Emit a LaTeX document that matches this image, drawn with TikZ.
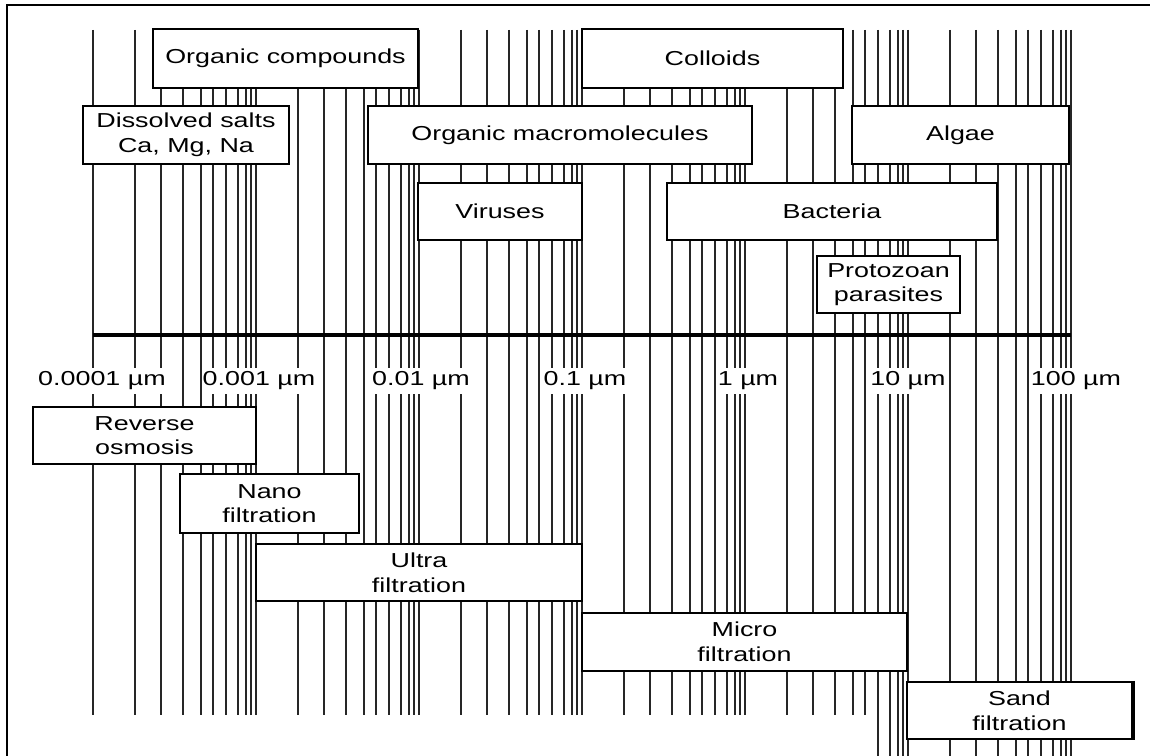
\documentclass[tikz,border=0pt]{standalone}
\usepackage{fontspec}
\setmainfont[FakeStretch=1.33]{Liberation Sans}
\usepackage{tikz}
\usetikzlibrary{calc}
\tikzset{
  sizebox/.style={draw, fill=white, line width=1.3pt, align=center, inner sep=0pt,
    font=\fontsize{11.5}{14}\selectfont},
  sizelabel/.style={fill=white, inner xsep=0.5pt, inner ysep=2pt,
    font=\fontsize{11.5}{14}\selectfont},
  gridline/.style={line width=0.85pt, black!85}
}

\begin{document}
\begin{tikzpicture}[x=0.02cm, y=-0.02cm]
\clip (0,0) rectangle (1150,756);
\fill[white] (0,0) rectangle (1150,756);
% frame (only top and left edge are in view)
\draw[line width=1.6pt] (7,760) -- (7,5) -- (1155,5);

% log scale grid, six decades
\foreach \d in {0,...,5}
  \foreach \o in {0,42,68,90,108,120,133,145,153,158} {
    \pgfmathsetmacro\gx{93+163*\d+\o}
    \pgfmathsetmacro\gy{\gx>870 ? 760 : 715}
    \draw[gridline] (\gx,30) -- (\gx,\gy);
  }
\draw[gridline] (1071,30) -- (1071,760);

% size axis
\coordinate (axl) at (93,335);
\coordinate (axr) at (1071,335);
\draw[line width=2.3pt] (axl) -- (axr);
\foreach \x/\t [count=\i] in {102/0.0001, 259/0.001, 421/0.01, 585/0.1, 748/1, 908/10, 1076/100}
  \node[sizelabel] (lab\i) at (\x,381) {\t\ µm};

% what is in the water
\node[sizebox, minimum width=5.30cm, minimum height=1.18cm] (orgcomp) at (285.5,58.5) {Organic compounds};
\node[sizebox, minimum width=5.22cm, minimum height=1.18cm] (colloids) at (712.5,58.5) {Colloids};
\node[sizebox, minimum width=4.12cm, minimum height=1.16cm] (salts) at (186,135) {Dissolved salts\\Ca, Mg, Na};
\node[sizebox, minimum width=7.68cm, minimum height=1.16cm] (macro) at (560,135) {Organic macromolecules};
\node[sizebox, minimum width=4.34cm, minimum height=1.16cm] (algae) at (960.5,135) {Algae};
\node[sizebox, minimum width=3.28cm, minimum height=1.14cm] (viruses) at (500,211.5) {Viruses};
\node[sizebox, minimum width=6.60cm, minimum height=1.14cm] (bacteria) at (832,211.5) {Bacteria};
\node[sizebox, minimum width=2.86cm, minimum height=1.14cm] (protozoa) at (888.5,284.5) {Protozoan\\parasites};

% what removes it
\node[sizebox, minimum width=4.46cm, minimum height=1.14cm] (reverse) at (144.5,435.5) {Reverse\\osmosis};
\node[sizebox, minimum width=3.58cm, minimum height=1.18cm] (nano) at (269.5,503.5) {Nano\\filtration};
\node[sizebox, minimum width=6.52cm, minimum height=1.14cm] (ultra) at (419,572.5) {Ultra\\filtration};
\node[sizebox, minimum width=6.50cm, minimum height=1.16cm] (micro) at (744.5,642) {Micro\\filtration};
\node[sizebox, minimum width=4.50cm, minimum height=1.14cm] (sand) at (1019.5,710.5) {Sand\\filtration};
\draw[line width=2.4pt] (sand.north east) -- (sand.south east);
\end{tikzpicture}
\end{document}
